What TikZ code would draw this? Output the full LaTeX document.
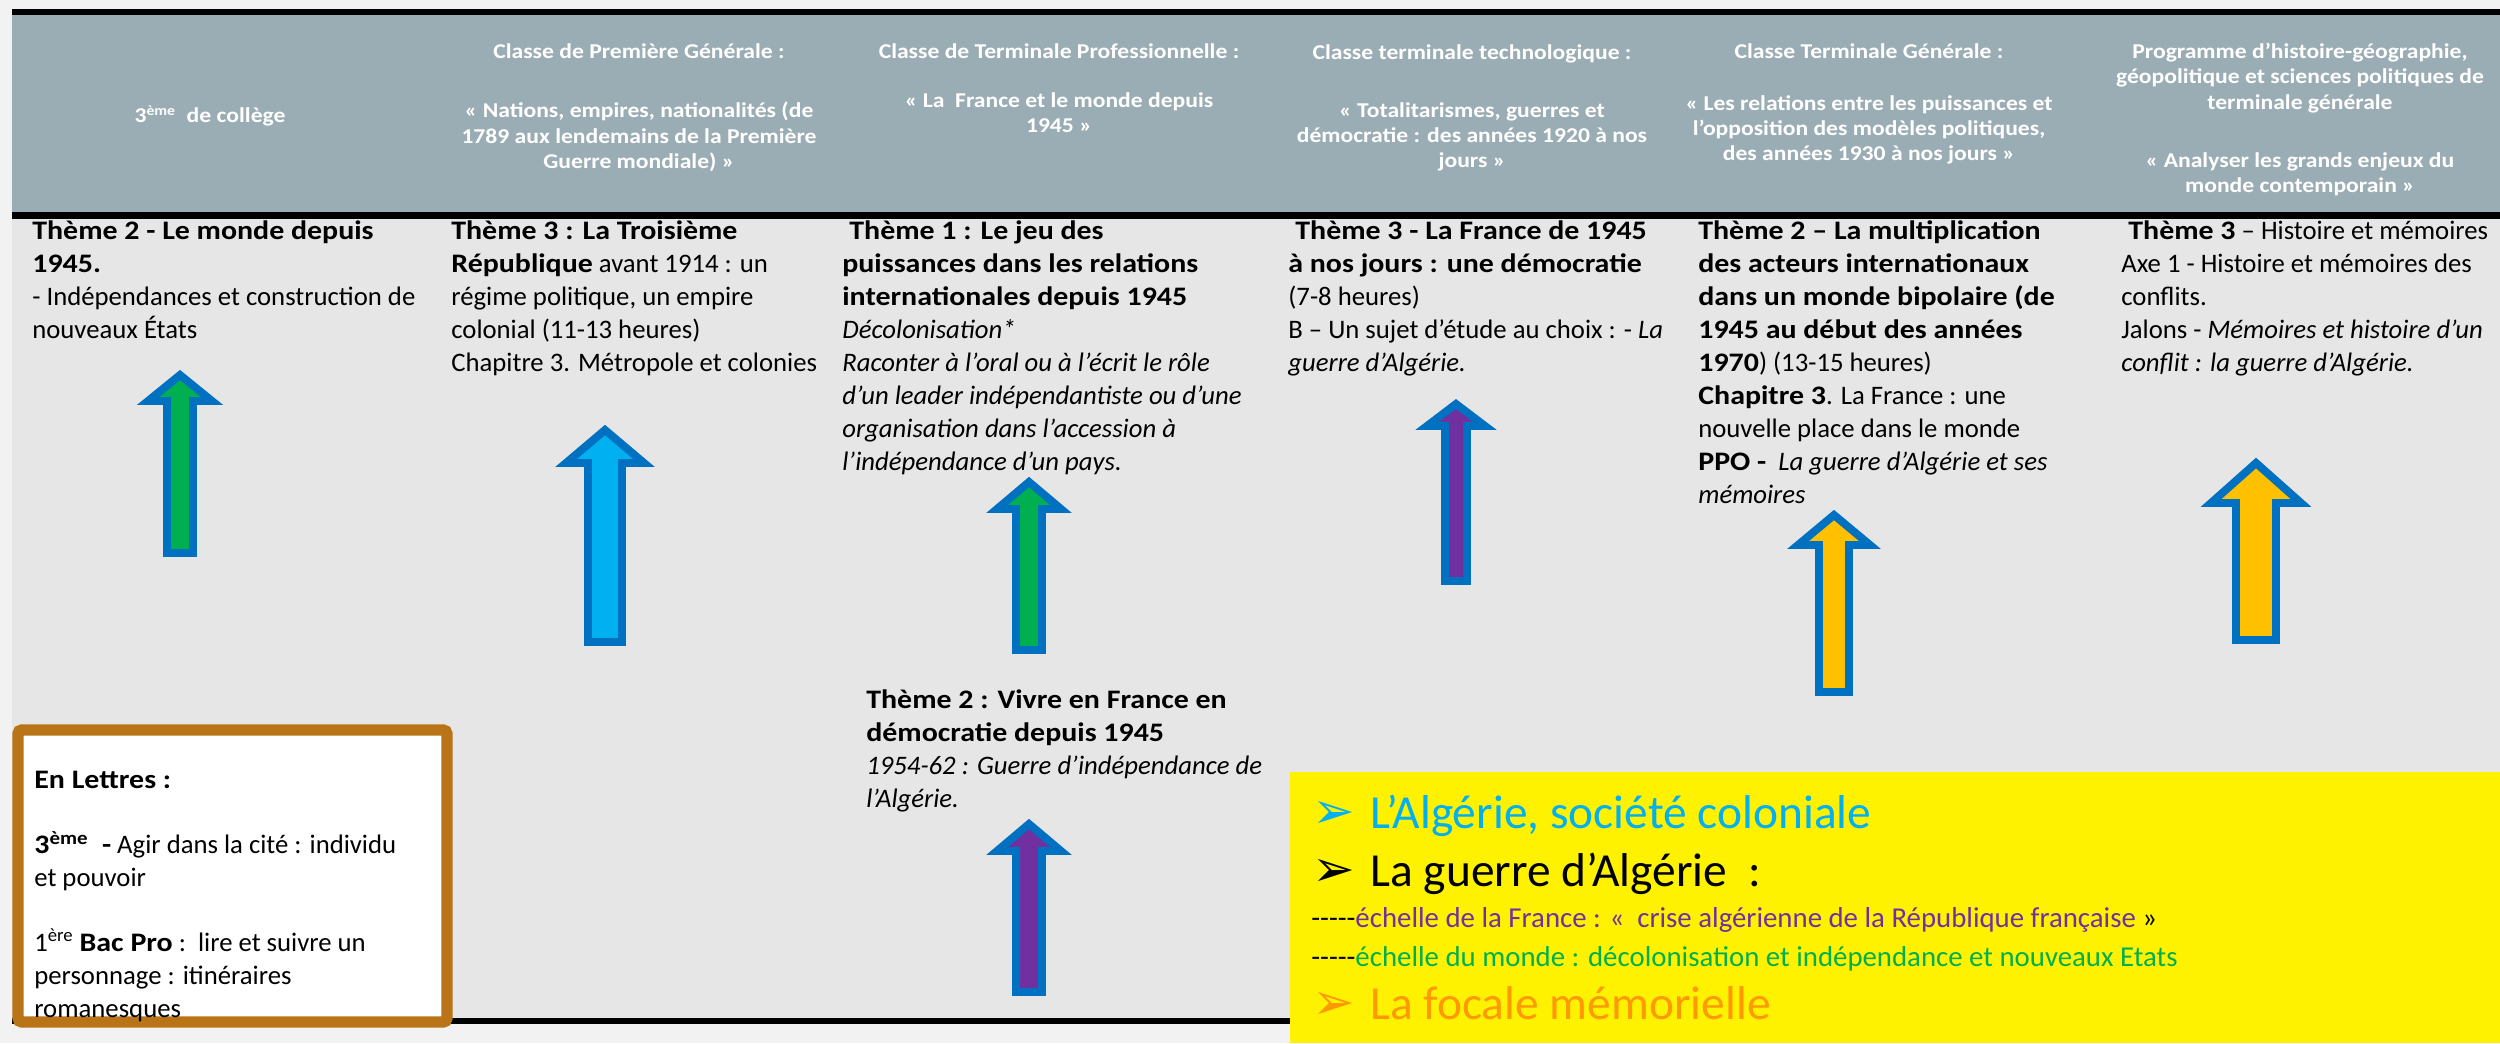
\documentclass[tikz,border=0pt]{standalone}
\usepackage{fontspec}
\setmainfont{Carlito}[BoldFeatures={FakeStretch=1.12}]
\newfontfamily\symfont{DejaVu Sans}
\usetikzlibrary{positioning}

\definecolor{pagegrey}{HTML}{F2F2F2}
\definecolor{headgrey}{HTML}{9BADB4}
\definecolor{bodygrey}{HTML}{E6E6E6}
\definecolor{arrowblue}{HTML}{0070C0}
\definecolor{agreen}{HTML}{00B050}
\definecolor{acyan}{HTML}{00B0F0}
\definecolor{apurple}{HTML}{7030A0}
\definecolor{agold}{HTML}{FFC000}
\definecolor{aorange}{HTML}{FF9900}
\definecolor{boxbrown}{HTML}{B87416}

% up arrow: fill, x, tip, head base, bottom, head half width, shaft half width
\newcommand{\uparrowshape}[7]{%
  \filldraw[blockarrow, fill=#1] (#2,#3+5) -- (#2+#6-4,#4-4) -- (#2+#7-4,#4-4) -- (#2+#7-4,#5-4)
    -- (#2-#7+4,#5-4) -- (#2-#7+4,#4-4) -- (#2-#6+4,#4-4) -- cycle;}
\newcommand{\fivedashes}{\mbox{-}\mbox{-}\mbox{-}\mbox{-}\mbox{-}}

\tikzset{
  rule/.style={fill=black},
  headtxt/.style={text=white, align=center, inner sep=0pt, font=\bfseries\fontsize{12}{14.4}\selectfont},
  celltxt/.style={anchor=north west, align=left, inner sep=0pt, font=\fontsize{15.2}{18.8}\selectfont},
  blockarrow/.style={draw=arrowblue, line width=4.5pt, line join=miter},
  bullet/.style={anchor=base west, inner sep=0pt, font=\symfont\fontsize{29}{29}\selectfont},
  bigline/.style={anchor=base west, inner sep=0pt, font=\fontsize{27}{30}\selectfont},
  smallline/.style={anchor=base west, inner sep=0pt, font=\fontsize{16.4}{18}\selectfont}
}

\begin{document}
\begin{tikzpicture}[x=0.2mm, y=-0.2mm]
\useasboundingbox (0,0) rectangle (2500,1043);
\fill[pagegrey] (0,0) rectangle (2500,1043);

% table
\fill[rule] (12,9) rectangle (2500,15);
\fill[headgrey] (12,15) rectangle (2500,212);
\fill[rule] (12,212) rectangle (2500,219);
\fill[bodygrey] (12,219) rectangle (2500,1018);
\fill[rule] (12,1018) rectangle (2500,1024);

% header row
\node[headtxt] (h1) at (210,116) {3\textsuperscript{ème}\ \ de collège};
\node[headtxt] (h2a) at (639,51) {Classe de Première Générale :};
\node[headtxt] (h2b) at (639,137) {« Nations, empires, nationalités (de\\1789 aux lendemains de la Première\\Guerre mondiale) »};
\node[headtxt] (h3a) at (1059,51) {Classe de Terminale Professionnelle :};
\node[headtxt] (h3b) at (1059,113) {« La\ \ France et le monde depuis\\1945 »};
\node[headtxt] (h4a) at (1472,54) {Classe terminale technologique :};
\node[headtxt] (h4b) at (1472,137) {« Totalitarismes, guerres et\\démocratie : des années 1920 à nos\\jours »};
\node[headtxt] (h5a) at (1869,51) {Classe Terminale Générale :};
\node[headtxt] (h5b) at (1869,130) {« Les relations entre les puissances et\\l’opposition des modèles politiques,\\des années 1930 à nos jours »};
\node[headtxt] (h6a) at (2300,78) {Programme d’histoire-géographie,\\géopolitique et sciences politiques de\\terminale générale};
\node[headtxt] (h6b) at (2300,174) {« Analyser les grands enjeux du\\monde contemporain »};

% body cells
\node[celltxt] (b1) at (32,220) {\textbf{Thème 2 - Le monde depuis}\\\textbf{1945.}\\- Indépendances et construction de\\nouveaux États};
\node[celltxt] (b2) at (451,220) {\textbf{Thème 3 : La Troisième}\\\textbf{République} avant 1914 : un\\régime politique, un empire\\colonial (11-13 heures)\\Chapitre 3. Métropole et colonies};
\node[celltxt] (b3) at (842,220) {\hspace*{4pt}\textbf{Thème 1 : Le jeu des}\\\textbf{puissances dans les relations}\\\textbf{internationales depuis 1945}\\\textit{Décolonisation*}\\\textit{Raconter à l’oral ou à l’écrit le rôle}\\\textit{d’un leader indépendantiste ou d’une}\\\textit{organisation dans l’accession à}\\\textit{l’indépendance d’un pays.}};
\node[celltxt] (b3b) at (866,689) {\textbf{Thème 2 : Vivre en France en}\\\textbf{démocratie depuis 1945}\\\textit{1954-62 : Guerre d’indépendance de}\\\textit{l’Algérie.}};
\node[celltxt] (b4) at (1288,220) {\hspace*{4pt}\textbf{Thème 3 - La France de 1945}\\\textbf{à nos jours : une démocratie}\\(7-8 heures)\\B – Un sujet d’étude au choix : - \textit{La}\\\textit{guerre d’Algérie.}};
\node[celltxt] (b5) at (1698,220) {\textbf{Thème 2 – La multiplication}\\\textbf{des acteurs internationaux}\\\textbf{dans un monde bipolaire (de}\\\textbf{1945 au début des années}\\\textbf{1970}) (13-15 heures)\\\textbf{Chapitre 3}. La France : une\\nouvelle place dans le monde\\\textbf{PPO -}\ \ \textit{La guerre d’Algérie et ses}\\\textit{mémoires}};
\node[celltxt] (b6) at (2121,220) {\hspace*{4pt}\textbf{Thème 3} – Histoire et mémoires\\Axe 1 - Histoire et mémoires des\\conflits.\\Jalons - \textit{Mémoires et histoire d’un}\\\textit{conflit : la guerre d’Algérie.}};

% arrows
\uparrowshape{agreen}{180}{370}{405}{557}{36}{17}
\uparrowshape{acyan}{605}{425}{467}{646}{43}{21}
\uparrowshape{agreen}{1029}{477}{513}{654}{36}{17}
\uparrowshape{apurple}{1456}{399}{430}{585}{33}{15}
\uparrowshape{agold}{1834}{510}{549}{696}{40}{19}
\uparrowshape{agold}{2256}{458}{507}{644}{49}{24}
\uparrowshape{apurple}{1029}{819}{855}{996}{36}{17}

% lettres box
\filldraw[draw=boxbrown, fill=white, line width=6.3pt, rounded corners=2pt] (18,730) rectangle (447,1022);
\node[celltxt] (lettres) at (34,771) {\textbf{En Lettres :}\\[18pt]\textbf{3\textsuperscript{ème}\ \ -} Agir dans la cité : individu\\et pouvoir\\[18pt]1\textsuperscript{ère} \textbf{Bac Pro} :\ \ lire et suivre un\\personnage : itinéraires\\romanesques};

% yellow box
\fill[yellow] (1290,772) rectangle (2500,1043);
\node[bullet, text=acyan] (k1) at (1312,828) {➢};
\node[bigline, text=acyan] (t1) at (1370,828) {L’Algérie, société coloniale};
\node[bullet, text=black] (k2) at (1312,886) {➢};
\node[bigline, text=black] (t2) at (1370,886) {La guerre d’Algérie\ \ :};
\node[smallline] (t3) at (1311,927) {\fivedashes\textcolor{apurple}{échelle de la France : «\ \ crise algérienne de la République française} »};
\node[smallline] (t4) at (1311,966) {\fivedashes\textcolor{agreen}{échelle du monde : décolonisation et indépendance et nouveaux Etats}};
\node[bullet, text=aorange] (k5) at (1312,1019) {➢};
\node[bigline, text=aorange] (t5) at (1370,1019) {La focale mémorielle};
\end{tikzpicture}
\end{document}
